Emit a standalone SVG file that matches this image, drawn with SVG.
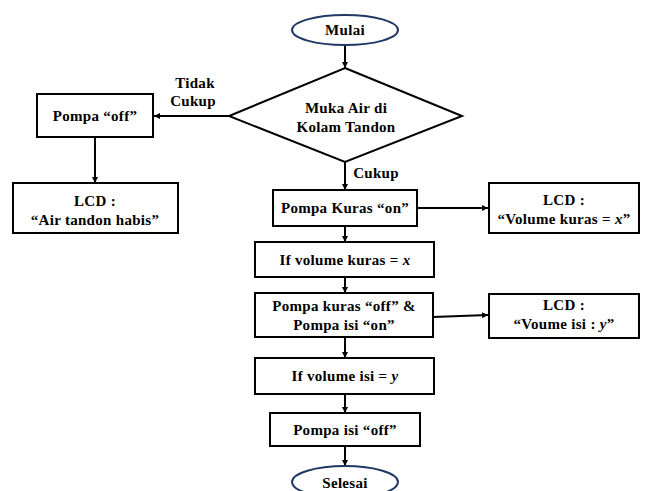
<svg xmlns="http://www.w3.org/2000/svg" width="645" height="491" viewBox="0 0 645 491">
<defs>
<marker id="ah" viewBox="0 0 10 10" refX="10" refY="5" markerWidth="6" markerHeight="6" markerUnits="userSpaceOnUse" orient="auto">
<path d="M0,0 L10,5 L0,10 z" fill="#000"/>
</marker>
<style>
.box{fill:#fff;stroke:#000;stroke-width:2}
.term{fill:#fff;stroke:#203864;stroke-width:2}
.t{font-family:"Liberation Serif","Times New Roman",serif;font-weight:bold;font-size:15px;letter-spacing:0.3px;fill:#000;text-anchor:middle}
.c{fill:none;stroke:#000;stroke-width:2;marker-end:url(#ah)}
.i{font-style:italic}
</style>
</defs>
<rect width="645" height="491" fill="#fff"/>
<g id="connectors">
<line class="c" x1="345" y1="45" x2="345" y2="68"/>
<line class="c" x1="229" y1="116" x2="154" y2="116"/>
<line class="c" x1="95" y1="137" x2="95" y2="183"/>
<line class="c" x1="345" y1="162" x2="345" y2="190"/>
<line class="c" x1="417" y1="208" x2="488" y2="208"/>
<line class="c" x1="345" y1="226" x2="345" y2="242"/>
<line class="c" x1="345" y1="277" x2="345" y2="293"/>
<line class="c" x1="433" y1="317" x2="488" y2="315"/>
<line class="c" x1="345" y1="337" x2="345" y2="358"/>
<line class="c" x1="345" y1="394" x2="345" y2="413"/>
<line class="c" x1="345" y1="446" x2="345" y2="466"/>
<text class="t" x="195" y="88">Tidak</text>
<text class="t" x="193" y="106">Cukup</text>
<text class="t" x="376" y="178">Cukup</text>
</g>
<g id="mulai">
<ellipse class="term" cx="345" cy="30" rx="53" ry="15"/>
<text class="t" x="345" y="35">Mulai</text>
</g>
<g id="decision">
<polygon points="345,68 462,116 345,162 229,116" fill="#fff" stroke="#000" stroke-width="2"/>
<text class="t" x="346" y="113">Muka Air di</text>
<text class="t" x="346" y="132">Kolam Tandon</text>
</g>
<g id="pompa-off">
<rect class="box" x="37" y="94" width="116" height="43"/>
<text class="t" x="95" y="121">Pompa “off”</text>
</g>
<g id="lcd-habis">
<rect class="box" x="13" y="183" width="165" height="50"/>
<text class="t" x="95" y="206">LCD :</text>
<text class="t" x="95" y="225">“Air tandon habis”</text>
</g>
<g id="pompa-kuras-on">
<rect class="box" x="273" y="190" width="144" height="36"/>
<text class="t" x="345" y="213">Pompa Kuras “on”</text>
</g>
<g id="lcd-kuras">
<rect class="box" x="489" y="183" width="150" height="50"/>
<text class="t" x="564" y="205">LCD :</text>
<text class="t" x="564" y="224">“Volume kuras = <tspan class="i">x</tspan>”</text>
</g>
<g id="if-kuras">
<rect class="box" x="255" y="242" width="179" height="35"/>
<text class="t" x="345" y="265">If volume kuras = <tspan class="i">x</tspan></text>
</g>
<g id="pompa-kuras-off">
<rect class="box" x="255" y="293" width="178" height="44"/>
<text class="t" x="344" y="311">Pompa kuras “off” &amp;</text>
<text class="t" x="344" y="330">Pompa isi “on”</text>
</g>
<g id="lcd-isi">
<rect class="box" x="489" y="294" width="150" height="44"/>
<text class="t" x="564" y="310">LCD :</text>
<text class="t" x="564" y="329">“Voume isi : <tspan class="i">y</tspan>”</text>
</g>
<g id="if-isi">
<rect class="box" x="255" y="358" width="179" height="36"/>
<text class="t" x="345" y="381">If volume isi = <tspan class="i">y</tspan></text>
</g>
<g id="pompa-isi-off">
<rect class="box" x="270" y="413" width="150" height="33"/>
<text class="t" x="345" y="435">Pompa isi “off”</text>
</g>
<g id="selesai">
<ellipse class="term" cx="345" cy="482" rx="53" ry="16"/>
<text class="t" x="345" y="488">Selesai</text>
</g>
</svg>
